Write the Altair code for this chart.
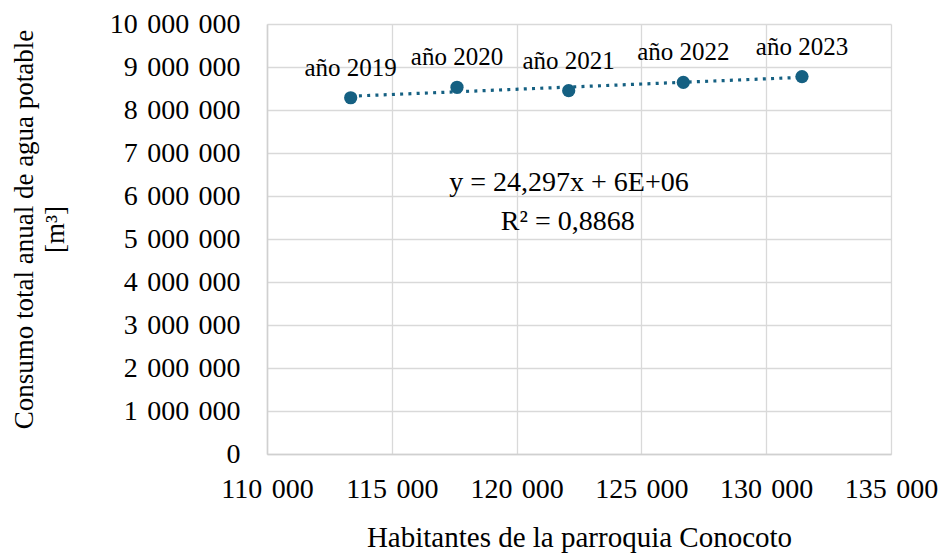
import altair as alt
import pandas as pd

# Población de la parroquia y consumo anual de agua potable por año
anios = ["año 2019", "año 2020", "año 2021", "año 2022", "año 2023"]
habitantes = [113353, 117612, 122087, 126679, 131434]
consumo = [8285000, 8528000, 8449000, 8644000, 8777000]

# Ecuación de la línea de tendencia y su coeficiente de determinación
ecuacion = ["y = 24,297x + 6E+06", "R² = 0,8868"]
ecuacion_x = [122100, 122050]
ecuacion_y = [6120000, 5210000]

AZUL = "#156082"
FUENTE = "Liberation Serif"
SEP = "\u2004"

df = pd.DataFrame({"anio": anios, "habitantes": habitantes, "consumo": consumo})
df_eq = pd.DataFrame({"texto": ecuacion, "x": ecuacion_x, "y": ecuacion_y})

etiqueta_miles = (
    f"replace(replace(format(datum.value, ','), ',', '{SEP}'), ',', '{SEP}')"
)

x_enc = alt.X(
    "habitantes:Q",
    scale=alt.Scale(domain=[110000, 135000], nice=False, zero=False),
    axis=alt.Axis(
        title="Habitantes de la parroquia Conocoto",
        values=[110000, 115000, 120000, 125000, 130000, 135000],
        labelExpr=etiqueta_miles,
        labelFontSize=28,
        labelPadding=21,
        labelOverlap=False,
        labelFlush=False,
        titleFontSize=29,
        titleFontWeight="normal",
        titleY=92,
        titleBaseline="alphabetic",
    ),
)
y_enc = alt.Y(
    "consumo:Q",
    scale=alt.Scale(domain=[0, 10000000], nice=False),
    axis=alt.Axis(
        title=["Consumo total anual de agua potable", "[m³]"],
        values=list(range(0, 10000001, 1000000)),
        labelExpr=etiqueta_miles,
        labelFontSize=28,
        labelPadding=27,
        labelOverlap=False,
        titleFontSize=27,
        titleFontWeight="normal",
        titleLineHeight=31,
        titleX=-229,
        titleY=205,
        titleAngle=270,
        titleBaseline="bottom",
        titleAlign="center",
    ),
)

tendencia = (
    alt.Chart(df)
    .transform_regression("habitantes", "consumo", method="linear")
    .mark_line(color=AZUL, strokeWidth=3.2, strokeDash=[3, 5.25])
    .encode(x=x_enc, y=y_enc)
)

puntos = (
    alt.Chart(df)
    .mark_circle(color=AZUL, size=175, opacity=1)
    .encode(x=x_enc, y=y_enc)
)

etiquetas = (
    alt.Chart(df)
    .mark_text(font=FUENTE, fontSize=25, color="black", dy=-22, baseline="alphabetic")
    .encode(x=x_enc, y=y_enc, text="anio:N")
)

texto_eq = (
    alt.Chart(df_eq)
    .mark_text(font=FUENTE, fontSize=28, color="black", baseline="alphabetic")
    .encode(x="x:Q", y="y:Q", text="texto:N")
)

chart = (
    alt.layer(tendencia, puntos, etiquetas, texto_eq)
    .properties(
        width=624,
        height=430,
        autosize=alt.AutoSizeParams(type="none"),
        padding={"left": 267, "top": 24, "right": 59, "bottom": 99},
        background="white",
    )
    .configure_view(stroke=None)
    .configure_axis(
        labelFont=FUENTE,
        titleFont=FUENTE,
        labelColor="black",
        titleColor="black",
        gridColor="#d9d9d9",
        gridWidth=1.3,
        domainColor="#d0d0d0",
        domainWidth=1.5,
        ticks=False,
    )
)

chart.save("out.html", embed_options={"renderer": "svg", "actions": False})
